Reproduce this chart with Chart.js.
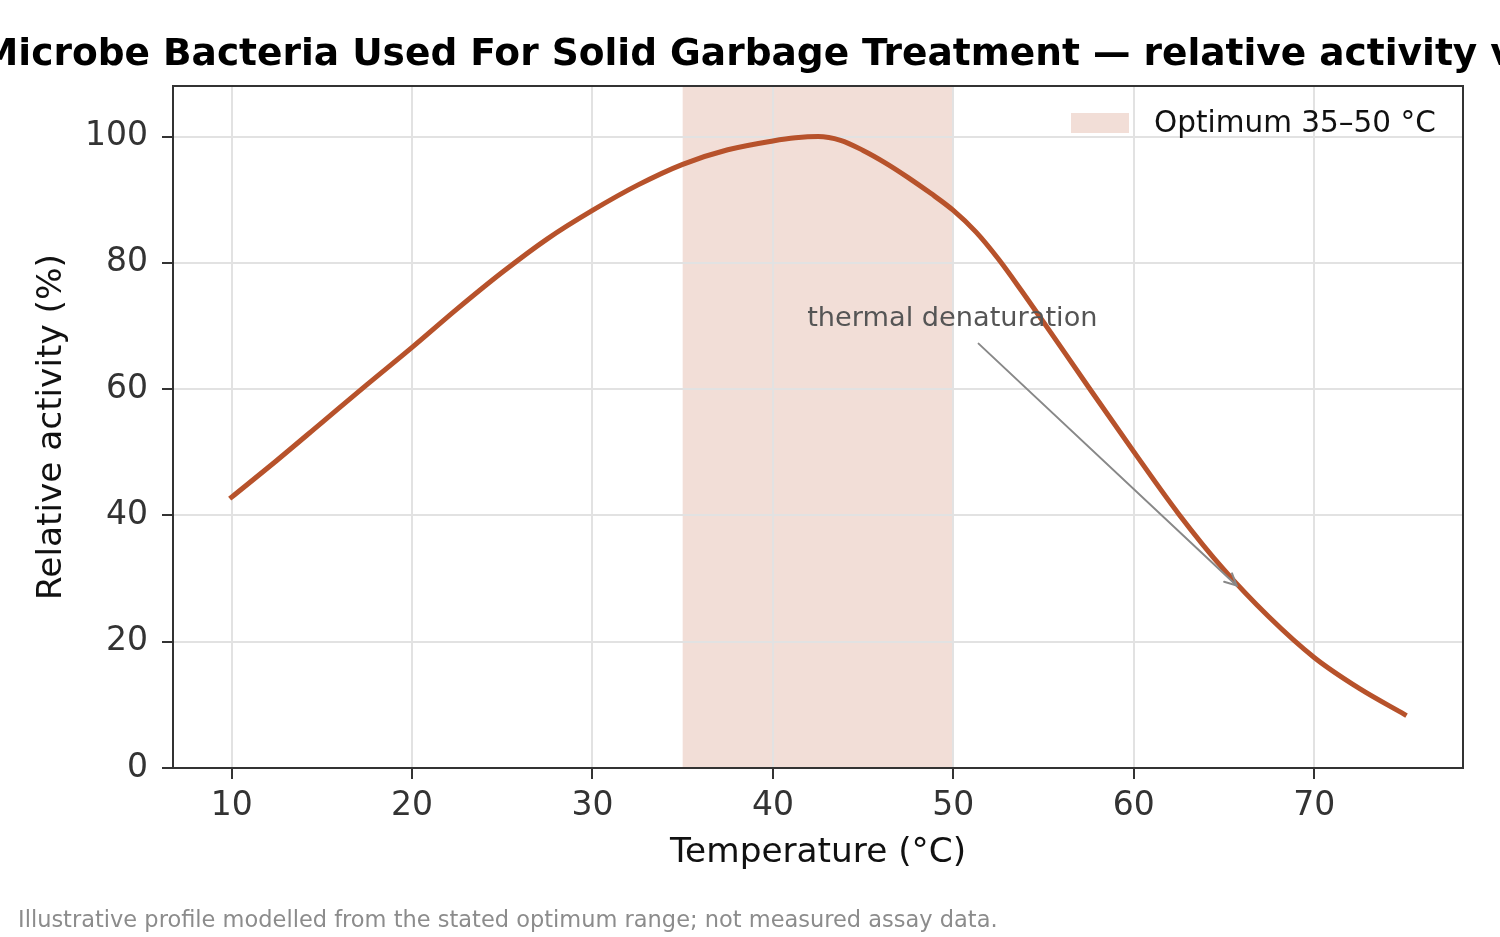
<!DOCTYPE html>
<html>
<head>
<meta charset="utf-8">
<title>Relative activity vs temperature</title>
<script src="https://cdn.jsdelivr.net/npm/chart.js@4.4.1/dist/chart.umd.min.js"></script>
<style>
  html, body { margin: 0; padding: 0; background: #fff; }
  canvas { display: block; }
</style>
</head>
<body>
<canvas id="chart" width="1500" height="937"></canvas>
<script>
/* ===== DATA ===== */
const temps    = [10, 12.5, 15, 17.5, 20, 22.5, 25, 27.5, 30, 32.5, 35, 37.5, 40, 41.25, 42.5, 43.75, 45, 46.25, 47.5, 48.75, 50, 51.25, 52.5, 53.75, 55, 57.5, 60, 62.5, 65, 67.5, 70, 72.5, 75];
const activity = [42.9, 48.7, 54.7, 60.7, 66.6, 72.7, 78.5, 83.8, 88.3, 92.3, 95.6, 97.9, 99.3, 99.8, 100, 99.4, 97.8, 95.8, 93.5, 91.0, 88.3, 84.9, 80.6, 75.7, 70.6, 60.3, 50.1, 40.2, 31.4, 23.9, 17.5, 12.6, 8.5];
const optimumRange = [35, 50];
const xTicks = [10, 20, 30, 40, 50, 60, 70];
const yTicks = [0, 20, 40, 60, 80, 100];
const xLimits = [6.75, 78.25];
const yLimits = [0, 108];
const notePos   = [41.9, 70];
const arrowFrom = [51.4, 67.2];
const arrowTo   = [65.7, 28.9];

const TITLE = 'Microbe Bacteria Used For Solid Garbage Treatment \u2014 relative activity vs temperature';
const FOOTNOTE = 'Illustrative profile modelled from the stated optimum range; not measured assay data.';
const LEGEND_LABEL = 'Optimum 35\u201350 \u00b0C';
const NOTE = 'thermal denaturation';

const FAMILY = '"DejaVu Sans", "Liberation Sans", sans-serif';
const CURVE = '#b7522b';
const BAND = 'rgba(184,82,42,0.19)';
const GRID = '#e2e2e2';
const INK = '#333';

const toPx = (chart, p) => [chart.scales.x.getPixelForValue(p[0]), chart.scales.y.getPixelForValue(p[1])];

// optimum band sits under the grid
const band = {
  id: 'band',
  beforeDraw(chart) {
    const { ctx, chartArea: ca, scales: { x } } = chart;
    const x0 = x.getPixelForValue(optimumRange[0]), x1 = x.getPixelForValue(optimumRange[1]);
    ctx.save();
    ctx.fillStyle = BAND;
    ctx.fillRect(x0, ca.top, x1 - x0, ca.bottom - ca.top);
    ctx.restore();
  }
};

// frame, title, legend, annotation and footnote
const decor = {
  id: 'decor',
  afterDatasetsDraw(chart) {
    const { ctx, chartArea: ca } = chart;
    ctx.save();
    ctx.strokeStyle = INK; ctx.lineWidth = 2;
    ctx.strokeRect(ca.left, ca.top, ca.right - ca.left, ca.bottom - ca.top);

    // annotation
    ctx.font = '27.2px ' + FAMILY;
    ctx.fillStyle = '#555'; ctx.textAlign = 'left'; ctx.textBaseline = 'alphabetic';
    const [tx, ty] = toPx(chart, notePos);
    ctx.fillText(NOTE, tx, ty);
    const [ax, ay] = toPx(chart, arrowFrom);
    const [bx, by] = toPx(chart, arrowTo);
    const ang = Math.atan2(by - ay, bx - ax);
    ctx.strokeStyle = '#888'; ctx.lineWidth = 2; ctx.lineCap = 'round';
    ctx.beginPath(); ctx.moveTo(ax, ay); ctx.lineTo(bx, by); ctx.stroke();
    ctx.beginPath();
    ctx.moveTo(bx - 13 * Math.cos(ang - 0.46), by - 13 * Math.sin(ang - 0.46));
    ctx.lineTo(bx, by);
    ctx.lineTo(bx - 13 * Math.cos(ang + 0.46), by - 13 * Math.sin(ang + 0.46));
    ctx.stroke();

    // legend
    ctx.fillStyle = BAND;
    ctx.fillRect(ca.right - 392, ca.top + 27, 58, 20);
    ctx.fillStyle = '#111'; ctx.font = '29.5px ' + FAMILY; ctx.textBaseline = 'middle';
    ctx.fillText(LEGEND_LABEL, ca.right - 309, ca.top + 38);

    // title (wider than the figure, clipped like the original)
    ctx.font = 'bold 37.5px ' + FAMILY; ctx.fillStyle = '#000'; ctx.textBaseline = 'alphabetic';
    ctx.fillText(TITLE, -19, 65);

    // footnote
    ctx.font = '22.5px ' + FAMILY; ctx.fillStyle = '#8c8c8c';
    ctx.fillText(FOOTNOTE, 18, 927);
    ctx.restore();
  }
};

const axisCommon = {
  type: 'linear',
  border: { display: false },
  grid: { color: GRID, lineWidth: 2, tickColor: INK, tickLength: 11, tickWidth: 2 },
};

new Chart(document.getElementById('chart'), {
  type: 'line',
  data: {
    datasets: [
      { data: temps.map((t, i) => ({ x: t, y: activity[i] })), borderColor: CURVE, borderWidth: 5,
        pointRadius: 0, cubicInterpolationMode: 'monotone', fill: false, borderCapStyle: 'square' }
    ]
  },
  options: {
    responsive: false, animation: false, events: [],
    layout: { padding: { left: 0, right: 37, top: 86, bottom: 0 } },
    plugins: { legend: { display: false }, tooltip: { enabled: false } },
    scales: {
      x: { ...axisCommon, min: xLimits[0], max: xLimits[1],
        afterBuildTicks: s => { s.ticks = xTicks.map(v => ({ value: v })); },
        afterFit: s => { s.height = 169; },
        ticks: { color: INK, font: { family: FAMILY, size: 33 }, padding: 8, maxRotation: 0, autoSkip: false },
        title: { display: true, text: 'Temperature (\u00b0C)', color: '#111', font: { family: FAMILY, size: 34.3 }, padding: { top: 0, bottom: 63 } } },
      y: { ...axisCommon, min: yLimits[0], max: yLimits[1],
        afterBuildTicks: s => { s.ticks = yTicks.map(v => ({ value: v })); },
        afterFit: s => { s.width = 173; },
        ticks: { color: INK, font: { family: FAMILY, size: 33 }, padding: 14 },
        title: { display: true, text: 'Relative activity (%)', color: '#111', font: { family: FAMILY, size: 34.3 }, padding: { top: 32, bottom: 0 } } }
    }
  },
  plugins: [band, decor]
});
</script>
</body>
</html>
